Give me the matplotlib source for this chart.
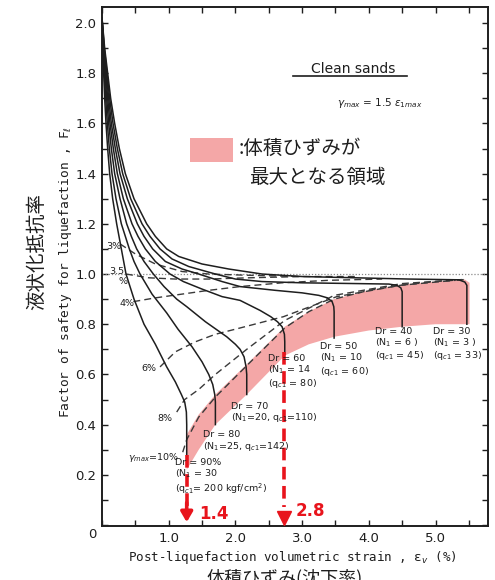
import numpy as np
import matplotlib
matplotlib.use("Agg")
import matplotlib.pyplot as plt
from matplotlib.patches import Rectangle
from matplotlib.ticker import MultipleLocator

plt.rcParams['font.family'] = ['DejaVu Sans', 'Noto Sans CJK JP']
JP = ['Noto Sans CJK JP', 'DejaVu Sans']

## Data (x = volumetric strain %, y = FL)
# Dr curves
dr90_x = [0, 0.01, 0.025, 0.04, 0.06, 0.085, 0.115, 0.16, 0.22, 0.29, 0.36, 0.48, 0.63, 0.80, 0.97, 1.10, 1.19, 1.24, 1.265, 1.27, 1.27]
dr90_y = [2.02, 1.90, 1.80, 1.70, 1.60, 1.50, 1.40, 1.30, 1.20, 1.10, 1.00, 0.90, 0.80, 0.72, 0.63, 0.57, 0.52, 0.49, 0.45, 0.40, 0.25]
dr80_x = [0, 0.015, 0.035, 0.055, 0.08, 0.11, 0.15, 0.21, 0.29, 0.41, 0.48, 0.57, 0.75, 0.97, 1.14, 1.35, 1.50, 1.60, 1.66, 1.69, 1.70, 1.70]
dr80_y = [2.02, 1.90, 1.80, 1.70, 1.60, 1.50, 1.40, 1.30, 1.20, 1.10, 1.05, 1.00, 0.92, 0.845, 0.78, 0.71, 0.65, 0.60, 0.56, 0.52, 0.49, 0.40]
dr70_x = [0, 0.02, 0.045, 0.07, 0.10, 0.14, 0.19, 0.27, 0.37, 0.44, 0.52, 0.63, 0.77, 0.93, 1.12, 1.27, 1.55, 1.87, 2.00, 2.07, 2.13, 2.16, 2.17, 2.17]
dr70_y = [2.02, 1.90, 1.80, 1.70, 1.60, 1.50, 1.40, 1.30, 1.20, 1.15, 1.10, 1.05, 1.00, 0.95, 0.90, 0.87, 0.81, 0.75, 0.72, 0.70, 0.67, 0.63, 0.60, 0.52]
dr60_x = [0, 0.025, 0.055, 0.085, 0.12, 0.17, 0.23, 0.32, 0.45, 0.54, 0.65, 0.80, 1.02, 1.22, 1.50, 1.80, 2.07, 2.37, 2.53, 2.63, 2.70, 2.735, 2.74, 2.74]
dr60_y = [2.02, 1.90, 1.80, 1.70, 1.60, 1.50, 1.40, 1.30, 1.20, 1.15, 1.10, 1.05, 1.00, 0.97, 0.94, 0.91, 0.895, 0.855, 0.83, 0.81, 0.79, 0.76, 0.73, 0.68]
dr50_x = [0, 0.03, 0.065, 0.10, 0.14, 0.20, 0.27, 0.38, 0.53, 0.63, 0.76, 0.95, 1.20, 1.45, 1.80, 2.07, 2.60, 3.00, 3.25, 3.38, 3.45, 3.475, 3.48, 3.48]
dr50_y = [2.02, 1.90, 1.80, 1.70, 1.60, 1.50, 1.40, 1.30, 1.20, 1.15, 1.10, 1.05, 1.02, 1.00, 0.97, 0.95, 0.935, 0.925, 0.915, 0.905, 0.89, 0.87, 0.85, 0.745]
dr40_x = [0, 0.035, 0.075, 0.115, 0.165, 0.23, 0.31, 0.43, 0.60, 0.72, 0.87, 1.05, 1.30, 1.70, 2.00, 2.40, 3.00, 3.80, 4.30, 4.42, 4.48, 4.50, 4.50]
dr40_y = [2.02, 1.90, 1.80, 1.70, 1.60, 1.50, 1.40, 1.30, 1.20, 1.15, 1.10, 1.06, 1.03, 1.00, 0.98, 0.97, 0.965, 0.962, 0.96, 0.955, 0.945, 0.93, 0.79]
dr30_x = [0, 0.04, 0.085, 0.13, 0.19, 0.26, 0.35, 0.48, 0.67, 0.80, 0.97, 1.15, 1.50, 1.90, 2.40, 3.00, 3.80, 4.60, 5.35, 5.44, 5.47, 5.47]
dr30_y = [2.02, 1.90, 1.80, 1.70, 1.60, 1.50, 1.40, 1.30, 1.20, 1.15, 1.10, 1.07, 1.04, 1.02, 1.00, 0.99, 0.985, 0.98, 0.977, 0.968, 0.955, 0.80]

# gamma max contours (dashed)
g3_x = [0.27, 0.5, 0.8, 1.2, 1.6, 2.2, 3.0]
g3_y = [1.12, 1.08, 1.04, 1.01, 1.0, 0.995, 0.99]
g35_x = [0.36, 0.7, 1.1, 1.6, 2.2, 3.0, 3.8]
g35_y = [1.00, 0.985, 0.98, 0.98, 0.985, 0.99, 0.99]
g4_x = [0.47, 0.8, 1.2, 1.6, 2.07, 2.7, 3.4, 4.2]
g4_y = [0.89, 0.905, 0.92, 0.935, 0.95, 0.965, 0.975, 0.98]
g6_x = [0.87, 1.1, 1.4, 1.7, 2.07, 2.72, 3.52, 4.47, 5.3]
g6_y = [0.63, 0.69, 0.73, 0.76, 0.785, 0.83, 0.91, 0.955, 0.975]
g8_x = [1.12, 1.24, 1.45, 1.70, 2.17, 2.74, 3.48, 4.5, 5.4]
g8_y = [0.45, 0.50, 0.54, 0.60, 0.70, 0.815, 0.915, 0.962, 0.978]
g10_x = [1.21, 1.27, 1.45, 1.70, 2.17, 2.74, 3.10, 3.48, 4.0, 4.5, 5.0, 5.44]
g10_y = [0.29, 0.34, 0.43, 0.51, 0.635, 0.785, 0.85, 0.90, 0.935, 0.956, 0.97, 0.978]

# region of maximum volumetric strain
pink_top_x = [1.27, 1.45, 1.70, 2.17, 2.74, 3.10, 3.48, 4.0, 4.5, 5.0, 5.44, 5.51]
pink_top_y = [0.36, 0.44, 0.52, 0.64, 0.79, 0.85, 0.90, 0.935, 0.958, 0.97, 0.978, 0.965]
pink_bot_x = [1.27, 1.45, 1.70, 2.17, 2.74, 3.10, 3.48, 4.0, 4.5, 5.0, 5.51]
pink_bot_y = [0.22, 0.30, 0.40, 0.52, 0.675, 0.72, 0.75, 0.775, 0.79, 0.80, 0.80]

# red read-off arrows
arrow_x = [1.27, 2.73]
arrow_top = [0.28, 0.69]
arrow_txt = ["1.4", "2.8"]

PINK = "#f4a7a7"
RED = "#e8141c"
INK = "#1e1e1e"
MONO = "DejaVu Sans Mono"

fig = plt.figure(figsize=(4.95, 5.8), dpi=100)
W, H = 495.0, 580.0
ax = fig.add_axes([102 / W, (H - 526) / H, (488 - 102) / W, (526 - 7) / H])
ax.set_xlim(0, 5.787)
ax.set_ylim(-0.004, 2.064)

# pink zone
px = pink_top_x + pink_bot_x[::-1]
py = pink_top_y + pink_bot_y[::-1]
ax.fill(px, py, color=PINK, lw=0, zorder=1)

# FL = 1.0 reference
ax.axhline(1.0, color="#8a8a8a", lw=0.9, ls=(0, (1, 1.5)), zorder=2)

for cx, cy in [(dr90_x, dr90_y), (dr80_x, dr80_y), (dr70_x, dr70_y), (dr60_x, dr60_y),
               (dr50_x, dr50_y), (dr40_x, dr40_y), (dr30_x, dr30_y)]:
    ax.plot(cx, cy, color=INK, lw=1.1, zorder=4, solid_joinstyle="round")

for cx, cy in [(g3_x, g3_y), (g35_x, g35_y), (g4_x, g4_y), (g6_x, g6_y),
               (g8_x, g8_y), (g10_x, g10_y)]:
    ax.plot(cx, cy, color="#3a3a3a", lw=1.0, dashes=(5, 3), zorder=3)

# red arrows
for xa, ya in zip(arrow_x, arrow_top):
    ax.plot([xa, xa], [ya, 0.07], color=RED, lw=2.6, dashes=(3.5, 1.8), zorder=6)
ax.annotate("", xy=(arrow_x[0], 0.0), xytext=(arrow_x[0], 0.10),
            arrowprops=dict(arrowstyle="-|>,head_length=0.6,head_width=0.35", color=RED, lw=2.6),
            zorder=7)
ax.plot([arrow_x[1]], [0.028], marker="v", ms=10, color=RED, zorder=7, clip_on=False)
ax.text(arrow_x[0] + 0.18, 0.045, arrow_txt[0], color=RED, fontsize=12, fontweight="bold",
        ha="left", va="center")
ax.text(arrow_x[1] + 0.18, 0.055, arrow_txt[1], color=RED, fontsize=12, fontweight="bold",
        ha="left", va="center")

# Dr labels
lab = dict(fontsize=6.8, color=INK, ha="left", va="top", linespacing=1.05, zorder=8)
ax.text(1.09, 0.265, "Dr = 90%\n(N$_1$ = 30\n(q$_{c1}$= 200 kgf/cm$^2$)", **lab)
ax.text(1.52, 0.378, "Dr = 80\n(N$_1$=25, q$_{c1}$=142)", **lab)
ax.text(1.93, 0.49, "Dr = 70\n(N$_1$=20, q$_{c1}$=110)", **lab)
ax.text(2.49, 0.68, "Dr = 60\n(N$_1$ = 14\n(q$_{c1}$ = 80)", **lab)
ax.text(3.27, 0.728, "Dr = 50\n(N$_1$ = 10\n(q$_{c1}$ = 60)", **lab)
ax.text(4.09, 0.79, "Dr = 40\n(N$_1$ = 6 )\n(q$_{c1}$ = 45)", **lab)
ax.text(4.96, 0.79, "Dr = 30\n(N$_1$ = 3 )\n(q$_{c1}$ = 33)", **lab)

# gamma max labels
gl = dict(fontsize=6.8, color=INK, ha="center", va="center", zorder=8)
ax.text(0.17, 1.11, "3%", **gl)
ax.text(0.225, 1.012, "3.5", **gl)
ax.text(0.31, 0.972, "%", **gl)
ax.text(0.375, 0.884, "4%", **gl)
ax.text(0.70, 0.625, "6%", **gl)
ax.text(0.94, 0.426, "8%", **gl)
ax.text(0.765, 0.27, r"$\gamma_{max}$=10%", **gl)

# headings
ax.text(3.76, 1.815, "Clean sands", fontsize=10, ha="center", va="center", color=INK)
ax.plot([2.86, 4.57], [1.79, 1.79], color=INK, lw=1.2)
ax.text(4.17, 1.68, r"$\gamma_{max}$ = 1.5 $\varepsilon_{1max}$", fontsize=7.5,
        ha="center", va="center", color=INK)

# legend key
ax.add_patch(Rectangle((1.32, 1.446), 0.65, 0.097, color=PINK, lw=0))
ax.text(2.05, 1.50, ":体積ひずみが", family=JP, fontsize=14, ha="left", va="center", color=INK)
ax.text(2.20, 1.385, "最大となる領域", family=JP, fontsize=14, ha="left", va="center", color=INK)

# axes styling
ax.xaxis.set_minor_locator(MultipleLocator(0.5))
ax.yaxis.set_minor_locator(MultipleLocator(0.1))
ax.set_xticks([1, 2, 3, 4, 5])
ax.set_xticklabels(["1.0", "2.0", "3.0", "4.0", "5.0"])
yt = [0.2, 0.4, 0.6, 0.8, 1.0, 1.2, 1.4, 1.6, 1.8, 2.0]
ax.set_yticks(yt)
ax.set_yticklabels(["%.1f" % v for v in yt])
ax.tick_params(which="both", direction="in", top=True, right=True, length=4, width=1.0,
               labelsize=9.5, colors=INK, pad=4)
for s in ax.spines.values():
    s.set_linewidth(1.4)
    s.set_color(INK)

fig.text(92 / W, 1 - 534 / H, "0", fontsize=9.5, ha="center", va="center", color=INK)
fig.text(66 / W, 1 - 272 / H, "Factor of safety for liquefaction , F$_\\ell$", rotation=90,
         family=MONO, fontsize=9.3, ha="center", va="center", color=INK)
fig.text(37 / W, 1 - 252 / H, "液状化抵抗率", family=JP, rotation=90, fontsize=14,
         ha="center", va="center", color=INK)
fig.text(292 / W, 1 - 557 / H, "Post-liquefaction volumetric strain , ε$_v$ (%)",
         family=MONO, fontsize=9.0, ha="center", va="center", color=INK)
fig.text(285 / W, 1 - 569 / H, "体積ひずみ(沈下率)", family=JP, fontsize=13,
         ha="center", va="top", color=INK)

fig.savefig("out.png", dpi=100)
